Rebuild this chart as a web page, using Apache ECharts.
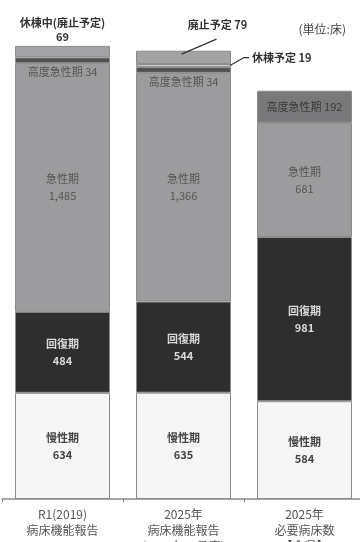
<!DOCTYPE html>
<html><head><meta charset="utf-8">
<script src="https://cdn.jsdelivr.net/npm/echarts@6/dist/echarts.min.js"></script>
<style>html,body{margin:0;padding:0;background:#fff}#c{width:360px;height:542px}</style>
</head><body><div id="c"></div>
<script>
const categories = ['R1(2019)\n病床機能報告', '2025年\n病床機能報告\n(2025年の予定)', '2025年\n必要病床数\n【全県】'];
const chronic = [634, 635, 584];        // 慢性期
const recovery = [484, 544, 981];       // 回復期
const acute = [1485, 1366, 681];        // 急性期
const highAcute = [34, 34, 192];        // 高度急性期
const plannedIdle = [null, 19, null];   // 休棟予定
const idleClosing = [69, 79, null];     // 休棟中(廃止予定) / 廃止予定
const topNames = ['休棟中(廃止予定)', '廃止予定', ''];
const unitText = '(単位:床)';

const FONT = '"Noto Sans CJK JP", "Noto Sans", sans-serif';
const fmt = v => v.toLocaleString('en-US');
const chart = echarts.init(document.getElementById('c'), null, {renderer: 'canvas'});
const border = {borderColor: '#8a8a8a', borderWidth: 1};

const option = {
  backgroundColor: '#fff',
  animation: false,
  textStyle: {fontFamily: FONT},
  grid: {left: 2, width: 363, top: 0, height: 499, containLabel: false, outerBoundsMode: 'none'},
  xAxis: {
    type: 'category', data: categories,
    axisLine: {lineStyle: {color: '#8a8a8a', width: 1.5}},
    axisTick: {show: true, length: 3, lineStyle: {color: '#777'}},
    axisLabel: {color: '#555', fontSize: 12, lineHeight: 16, margin: 7, fontFamily: FONT, interval: 0}
  },
  yAxis: {type: 'value', min: 0, max: 2980, show: false, splitLine: {show: false}},
  series: [
    {name: '慢性期', type: 'bar', stack: 's', barWidth: 95, data: chronic,
      itemStyle: Object.assign({color: '#f6f6f6'}, border),
      label: {show: true, position: 'inside', color: '#444', fontSize: 11, fontWeight: 'bold', lineHeight: 17,
        fontFamily: FONT, formatter: p => '慢性期\n' + fmt(p.value)}},
    {name: '回復期', type: 'bar', stack: 's', data: recovery,
      itemStyle: Object.assign({color: '#2e2e2e'}, border),
      label: {show: true, position: 'inside', color: '#d8d8d8', fontSize: 11, fontWeight: 'bold', lineHeight: 17,
        fontFamily: FONT, formatter: p => '回復期\n' + fmt(p.value)}},
    {name: '急性期', type: 'bar', stack: 's', data: acute,
      itemStyle: Object.assign({color: '#9c9c9e'}, border),
      label: {show: true, position: 'inside', color: '#555', fontSize: 11, lineHeight: 17,
        fontFamily: FONT, formatter: p => '急性期\n' + fmt(p.value)}},
    {name: '高度急性期', type: 'bar', stack: 's',
      data: highAcute.map((v, i) => i < 2 ? {
        value: v, itemStyle: {color: '#505052'},
        label: {position: 'bottom', distance: 3, color: '#555'}
      } : {
        value: v, itemStyle: {color: '#79797b'},
        label: {position: 'inside', color: '#3a3a3a'}
      }),
      itemStyle: Object.assign({}, border),
      label: {show: true, fontSize: 11, fontFamily: FONT, formatter: p => '高度急性期 ' + fmt(p.value)}},
    {name: '休棟予定', type: 'bar', stack: 's', data: plannedIdle,
      itemStyle: Object.assign({color: '#c9c9cb'}, border),
      label: {show: true, position: 'right', distance: 21, offset: [0, -8], color: '#333', fontSize: 11,
        fontWeight: 'bold', fontFamily: FONT, formatter: p => '休棟予定 ' + fmt(p.value)}},
    {name: '休棟中・廃止予定', type: 'bar', stack: 's',
      data: idleClosing.map((v, i) => i === 0 ? {
        value: v, label: {position: 'top', distance: 2, offset: [0, 0],
          formatter: p => topNames[0] + '\n' + fmt(p.value)}
      } : {
        value: v, label: {position: 'top', distance: 0, offset: [34, -19],
          formatter: p => topNames[1] + ' ' + fmt(p.value)}
      }),
      itemStyle: Object.assign({color: '#a3a3a5'}, border),
      label: {show: true, color: '#333', fontSize: 11, fontWeight: 'bold', lineHeight: 14, fontFamily: FONT}}
  ]
};
chart.setOption(option);

// leader lines computed from the axes
const px = (x, y) => chart.convertToPixel({xAxisIndex: 0, yAxisIndex: 0}, [x, y]);
const base2 = chronic[1] + recovery[1] + acute[1] + highAcute[1];
const pClose = px(1, base2 + plannedIdle[1] + idleClosing[1] * 0.75);
const pIdle = px(1, base2 + plannedIdle[1] * 0.5);
const halfBar = 47.5;
chart.setOption({
  graphic: [
    {type: 'polyline', z: 100, shape: {points: [[pClose[0] - 2, pClose[1]], [pClose[0] + 33, pClose[1] - 15]]},
      style: {stroke: '#333', lineWidth: 1.3, fill: null}},
    {type: 'polyline', z: 100, shape: {points: [[pIdle[0] + halfBar - 1, pIdle[1]], [pIdle[0] + halfBar + 13, pIdle[1] - 8], [pIdle[0] + halfBar + 18, pIdle[1] - 8]]},
      style: {stroke: '#333', lineWidth: 1.3, fill: null}},
    {type: 'text', right: 14, top: 23,
      style: {text: unitText, fill: '#444', font: '12px ' + FONT}}
  ]
});
</script></body></html>
